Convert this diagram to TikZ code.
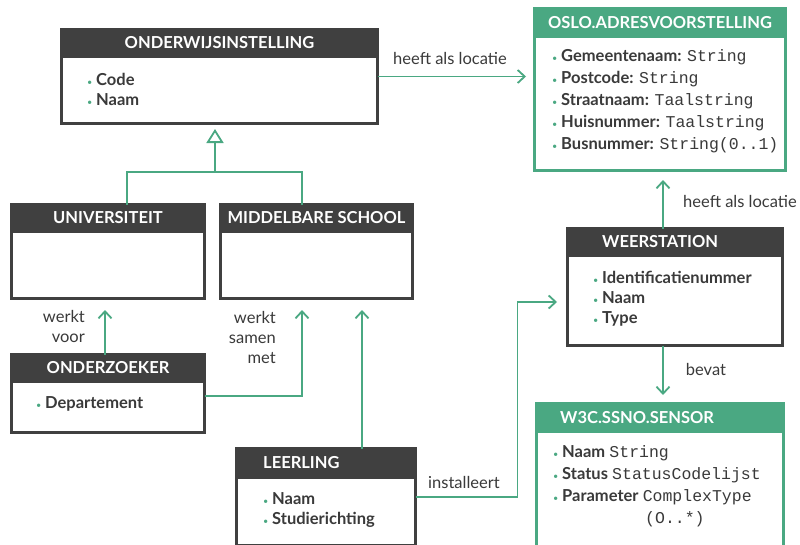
\documentclass[tikz,border=0pt]{standalone}
\usepackage{fontspec}
\setmainfont{Lato}
\setmonofont{Liberation Mono}
\usetikzlibrary{arrows.meta,positioning}

\definecolor{oslogreen}{RGB}{74,168,130}
\definecolor{boxgray}{RGB}{64,64,64}
\definecolor{textgray}{RGB}{58,58,58}
\newcommand{\bul}{\makebox[9pt][l]{\textcolor{oslogreen}{\scalebox{0.55}{\textbullet}}}}
\newcommand{\attr}[1]{\bul\textbf{#1}}

\begin{document}
\begin{tikzpicture}[x=1pt, y=-1pt, text=textgray, font=\fontsize{16.5}{20}\selectfont,
  classbox/.style={draw=boxgray, line width=3pt, fill=white, inner sep=0pt, outer sep=0pt},
  greenbox/.style={classbox, draw=oslogreen},
  head/.style={fill=boxgray, text=white, inner sep=0pt, outer sep=0pt, minimum height=30pt, anchor=north, font=\fontsize{16.5}{18}\selectfont\bfseries},
  greenhead/.style={head, fill=oslogreen},
  headtext/.style={text=white, inner sep=0pt, anchor=west, font=\fontsize{16.5}{18}\selectfont\bfseries},
  attrs/.style={inner sep=0pt, anchor=west, align=left},
  lbl/.style={inner sep=0pt},
  assoc/.style={draw=oslogreen, line width=1.8pt, -{Straight Barb[length=7pt,width=13pt]}},
  genline/.style={draw=oslogreen, line width=1.8pt}]
\clip (0,0) rectangle (800,544);
\fill[white] (0,0) rectangle (800,544);

\node[classbox, minimum width=316pt, minimum height=94pt] (onderwijs) at (219.5,76.5) {};
\node[head, minimum width=319pt] (onderwijs-h) at ([yshift=1.5pt]onderwijs.north) {ONDERWIJSINSTELLING};
\node[attrs] (onderwijs-a) at (87,89) {\attr{Code}\\\attr{Naam}};

\node[greenbox, minimum width=251pt, minimum height=162pt] (oslo) at (660,89.5) {};
\node[greenhead, minimum width=254pt, minimum height=31pt] (oslo-h) at ([yshift=1.5pt]oslo.north) {OSLO.ADRESVOORSTELLING};
\node[attrs, font=\fontsize{16.5}{22}\selectfont] (oslo-a) at (552,101) {\attr{Gemeentenaam:} \texttt{String}\\
  \attr{Postcode:} \texttt{String}\\
  \attr{Straatnaam:} \texttt{Taalstring}\\
  \attr{Huisnummer:} \texttt{Taalstring}\\
  \attr{Busnummer:} \texttt{String(0..1)}};

\node[classbox, minimum width=193pt, minimum height=94pt] (univ) at (108,251.5) {};
\node[head, minimum width=196pt] (univ-h) at ([yshift=1.5pt]univ.north) {UNIVERSITEIT};

\node[classbox, minimum width=192pt, minimum height=94pt] (middel) at (316.5,251.5) {};
\node[head, minimum width=195pt] (middel-h) at ([yshift=1.5pt]middel.north) {MIDDELBARE SCHOOL};

\node[classbox, minimum width=193pt, minimum height=78pt] (onderzoeker) at (108,393.5) {};
\node[head, minimum width=196pt] (onderzoeker-h) at ([yshift=1.5pt]onderzoeker.north) {ONDERZOEKER};
\node[attrs] (onderzoeker-a) at (36,404) {\attr{Departement}};

\node[classbox, minimum width=215pt, minimum height=117pt] (weer) at (675,287) {};
\node[head, minimum width=218pt] (weer-h) at ([yshift=1.5pt]weer.north) {};
\node[headtext] (weer-t) at (602,242) {WEERSTATION};
\node[attrs] (weer-a) at (593,298.5) {\attr{Identificatienummer}\\\attr{Naam}\\\attr{Type}};

\node[classbox, minimum width=179pt, minimum height=97pt] (leerling) at (326,497) {};
\node[head, minimum width=182pt, minimum height=32pt] (leerling-h) at ([yshift=1.5pt]leerling.north) {};
\node[headtext] (leerling-t) at (263,463) {LEERLING};
\node[attrs] (leerling-a) at (263,510) {\attr{Naam}\\\attr{Studierichting}};

\node[greenbox, minimum width=247pt, minimum height=155pt] (sensor) at (660,481) {};
\node[greenhead, minimum width=250pt, minimum height=31pt] (sensor-h) at ([yshift=1.5pt]sensor.north) {};
\node[headtext] (sensor-t) at (560,417.5) {W3C.SSNO.SENSOR};
\node[attrs, font=\fontsize{16.5}{22}\selectfont] (sensor-a) at (553,486.5) {\attr{Naam} \texttt{String}\\
  \attr{Status} \texttt{StatusCodelijst}\\
  \attr{Parameter} \texttt{ComplexType}\\
  \hspace*{92pt}\texttt{(O..*)}};

\draw[assoc, shorten >=8.5pt] (onderwijs.east) -- (onderwijs.east -| oslo.west);
\node[lbl] (loc1) at (450,58) {heeft als locatie};

\coordinate (genjoin) at (215,172);
\draw[genline] ([xshift=19pt]univ.north) |- (genjoin) -| ([xshift=-14.5pt]middel.north);
\draw[genline, -{Triangle[open, length=14pt, width=17pt]}, shorten >=5.5pt] (genjoin) -- (genjoin |- onderwijs.south);

\draw[assoc, shorten >=11.5pt] ([xshift=-3pt]onderzoeker.north) -- ([xshift=-3pt]univ.south);
\node[lbl, align=right, anchor=east] (voor) at (85,326.5) {werkt\\voor};

\draw[assoc, shorten >=11.5pt] ([yshift=-2.5pt]onderzoeker.east) -| ([xshift=-14.5pt]middel.south);
\node[lbl, align=right, anchor=east] (samen) at (276,337.5) {werkt\\samen\\met};

\draw[assoc, shorten >=11.5pt] ([xshift=36pt]leerling.north) -- ([xshift=45.5pt]middel.south);

\draw[assoc, shorten >=10.5pt] (leerling.east) -- ++(102,0) |- ([yshift=-15pt]weer.west);
\node[lbl] (inst) at (464,482) {installeert};

\draw[assoc, shorten >=9.5pt] ([xshift=-12pt]weer.north) -- ([xshift=-12pt]weer.north |- oslo.south);
\node[lbl] (loc2) at (740,201) {heeft als locatie};

\draw[assoc, shorten >=8.5pt] ([xshift=-12pt]weer.south) -- ([xshift=-12pt]weer.south |- sensor.north);
\node[lbl] (bevat) at (706,369) {bevat};
\end{tikzpicture}
\end{document}
